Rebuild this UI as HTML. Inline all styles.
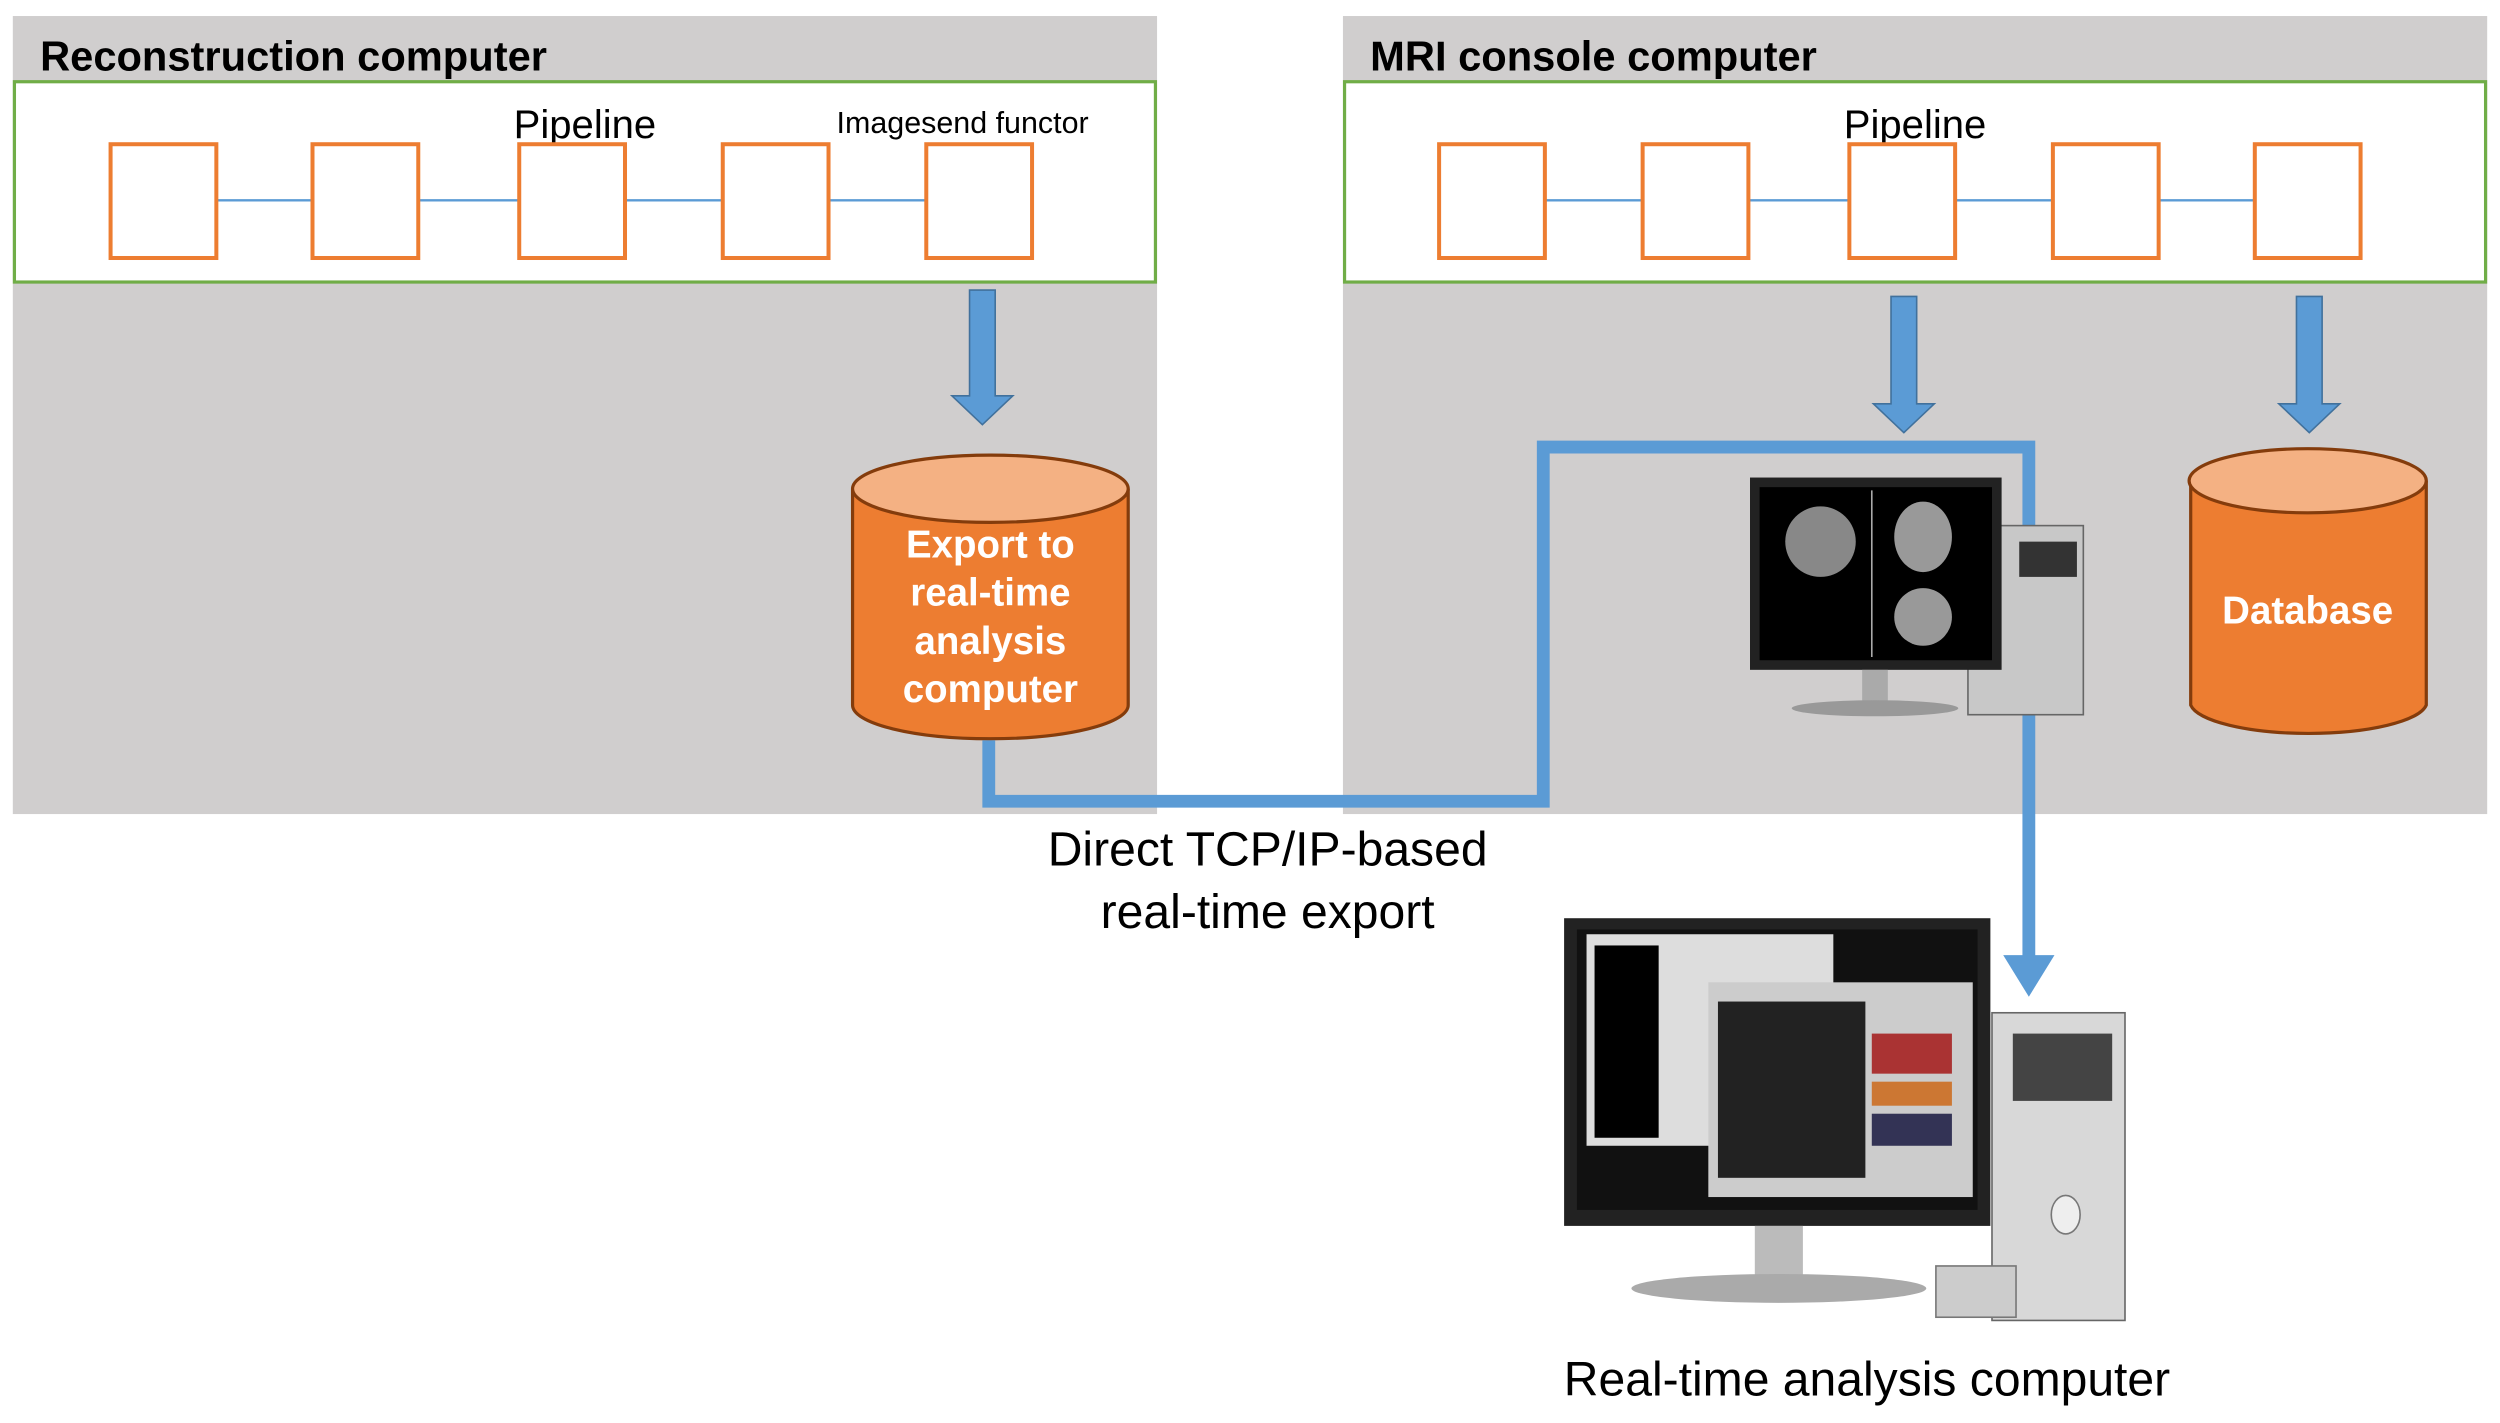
<!DOCTYPE html>
<html><head><meta charset="utf-8"><style>
html,body{margin:0;padding:0;background:#fff;}
svg{display:block}
text{font-family:"Liberation Sans",Arial,sans-serif;}
</style></head><body>
<svg width="2500" height="1423" viewBox="0 0 1560 888" preserveAspectRatio="none" xmlns="http://www.w3.org/2000/svg">
<rect width="1560" height="888" fill="#fff"/>
<!-- panels -->
<rect x="8" y="10" width="714" height="498" fill="#d0cece"/>
<rect x="838" y="10" width="714" height="498" fill="#d0cece"/>
<text x="25" y="44" font-size="26" font-weight="bold">Reconstruction computer</text>
<text x="855" y="44" font-size="26" font-weight="bold">MRI console computer</text>
<!-- pipelines -->
<rect x="9" y="51" width="712" height="125" fill="#fff" stroke="#70ad47" stroke-width="2"/>
<rect x="839" y="51" width="712" height="125" fill="#fff" stroke="#70ad47" stroke-width="2"/>
<text x="365" y="86" font-size="25" text-anchor="middle">Pipeline</text>
<text x="522" y="83" font-size="19">Imagesend functor</text>
<text x="1195" y="86" font-size="25" text-anchor="middle">Pipeline</text>
<g stroke="#5b9bd5" stroke-width="1.5">
<line x1="135" y1="125" x2="578" y2="125"/>
<line x1="965" y1="125" x2="1407" y2="125"/>
</g>
<g fill="#fff" stroke="#ed7d31" stroke-width="2.5">
<rect x="69" y="90" width="66" height="71"/><rect x="195" y="90" width="66" height="71"/><rect x="324" y="90" width="66" height="71"/><rect x="451" y="90" width="66" height="71"/><rect x="578" y="90" width="66" height="71"/>
<rect x="898" y="90" width="66" height="71"/><rect x="1025" y="90" width="66" height="71"/><rect x="1154" y="90" width="66" height="71"/><rect x="1281" y="90" width="66" height="71"/><rect x="1407" y="90" width="66" height="71"/>
</g>
<!-- down arrows -->
<g fill="#5b9bd5" stroke="#41719c" stroke-width="1">
<path d="M605 181 H621 V247 H632 L613 265 L594 247 H605 Z"/>
<path d="M1180 185 H1196 V252 H1207 L1188 270 L1169 252 H1180 Z"/>
<path d="M1433 185 H1449 V252 H1460 L1441 270 L1422 252 H1433 Z"/>
</g>
<!-- cylinders -->
<g stroke="#843c0c" stroke-width="2">
<path d="M532 305 V440 A86 21 0 0 0 704 440 V305" fill="#ed7d31"/>
<ellipse cx="618" cy="305" rx="86" ry="21" fill="#f4b183"/>
<path d="M1367 300 V440 A74 20 0 0 0 1514 440 V300" fill="#ed7d31"/>
<ellipse cx="1440" cy="300" rx="74" ry="20" fill="#f4b183"/>
</g>
<g fill="#fff" font-size="24" font-weight="bold" text-anchor="middle">
<text x="618" y="348">Export to</text><text x="618" y="378">real-time</text><text x="618" y="408">analysis</text><text x="618" y="438">computer</text>
<text x="1440" y="389">Database</text>
</g>
<!-- connector -->
<polyline points="617,462 617,500 963,500 963,279 1266,279 1266,598" fill="none" stroke="#5b9bd5" stroke-width="8"/>
<path d="M1250 596 L1282 596 L1266 622 Z" fill="#5b9bd5"/>
<text x="791" y="540" font-size="30" text-anchor="middle">Direct TCP/IP-based</text>
<text x="791" y="579" font-size="30" text-anchor="middle">real-time export</text>
<!-- MRI console computer -->
<rect x="1228" y="328" width="72" height="118" fill="#c8c8c8" stroke="#666"/>
<rect x="1260" y="338" width="36" height="22" fill="#333"/>
<rect x="1092" y="298" width="157" height="120" fill="#222"/>
<rect x="1098" y="304" width="145" height="108" fill="#000"/>
<line x1="1168" y1="306" x2="1168" y2="410" stroke="#aaa"/>
<ellipse cx="1136" cy="338" rx="22" ry="22" fill="#888"/>
<ellipse cx="1200" cy="335" rx="18" ry="22" fill="#999"/>
<ellipse cx="1200" cy="385" rx="18" ry="18" fill="#999"/>
<rect x="1162" y="418" width="16" height="20" fill="#aaa"/>
<ellipse cx="1170" cy="442" rx="52" ry="5" fill="#999"/>
<!-- real-time analysis computer -->
<rect x="1243" y="632" width="83" height="192" fill="#d8d8d8" stroke="#666"/>
<rect x="1256" y="645" width="62" height="42" fill="#444"/>
<ellipse cx="1289" cy="758" rx="9" ry="12" fill="#eee" stroke="#777"/>
<rect x="1208" y="790" width="50" height="32" fill="#ccc" stroke="#777"/>
<rect x="976" y="573" width="266" height="192" fill="#222"/>
<rect x="984" y="580" width="250" height="175" fill="#111"/>
<rect x="990" y="583" width="154" height="132" fill="#ddd"/>
<rect x="995" y="590" width="40" height="120" fill="#000"/>
<rect x="1066" y="613" width="165" height="134" fill="#ccc"/>
<rect x="1072" y="625" width="92" height="110" fill="#222"/>
<rect x="1168" y="645" width="50" height="25" fill="#a33"/>
<rect x="1168" y="675" width="50" height="15" fill="#c73"/>
<rect x="1168" y="695" width="50" height="20" fill="#335"/>
<rect x="1095" y="765" width="30" height="35" fill="#bbb"/>
<ellipse cx="1110" cy="804" rx="92" ry="9" fill="#aaa"/>
<text x="1165" y="871" font-size="30" text-anchor="middle">Real-time analysis computer</text>
</svg>
</body></html>
